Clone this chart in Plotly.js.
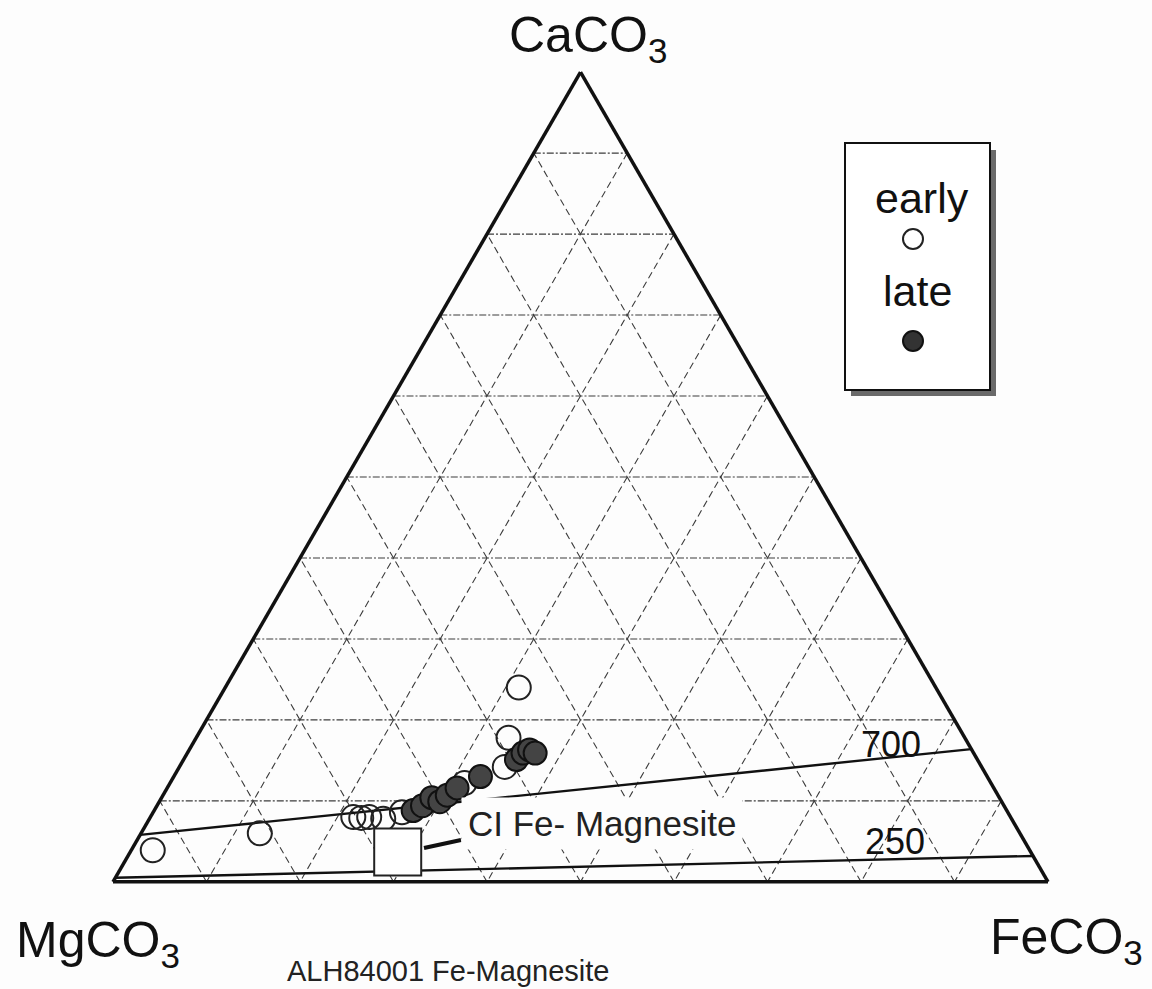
<!DOCTYPE html>
<html>
<head>
<meta charset="utf-8">
<script src="https://cdn.plot.ly/plotly-3.0.1.min.js"></script>
<style>
  html, body { margin: 0; padding: 0; background: #fdfdfd; }
  #chart { width: 1152px; height: 989px; }
</style>
</head>
<body>
<div id="chart"></div>
<script>
// Carbonate compositions (mol %): CaCO3 / MgCO3 / FeCO3
const earlyCa = [3.9, 6.0, 8.0, 7.9, 8.0, 7.8, 8.6, 12.2, 14.2, 17.8, 24.0];
const earlyMg = [93.8, 81.3, 70.3, 69.5, 68.6, 67.2, 64.8, 56.3, 51.0, 48.8, 44.6];
const earlyFe = [2.3, 12.7, 21.7, 22.6, 23.4, 25.0, 26.6, 31.5, 34.8, 33.4, 31.4];

const lateCa = [8.8, 9.4, 10.4, 9.9, 10.7, 11.6, 13.0, 15.1, 15.9, 16.3, 15.9];
const lateMg = [63.5, 62.2, 60.7, 60.1, 58.9, 57.4, 54.2, 49.3, 48.2, 47.3, 46.9];
const lateFe = [27.7, 28.4, 28.9, 30.0, 30.4, 31.0, 32.8, 35.6, 35.9, 36.4, 37.2];

// CI chondrite Fe-magnesite reference composition
const ciCa = [3.7];
const ciMg = [67.7];
const ciFe = [28.6];

// Solvus isotherms (°C) drawn edge to edge
const iso700Ca = [5.8, 16.4];
const iso700Mg = [94.2, 0];
const iso700Fe = [0, 83.6];
const iso250Ca = [0.5, 3.2];
const iso250Mg = [99.5, 0];
const iso250Fe = [0, 96.8];

const apexLabels = ['CaCO<sub>3</sub>', 'MgCO<sub>3</sub>', 'FeCO<sub>3</sub>'];
const legendLabels = ['early', 'late'];
const isoLabels = ['700', '250'];
const ciLabel = 'CI Fe- Magnesite';
const captionText = 'ALH84001 Fe-Magnesite';

// Page geometry helpers (pixel -> paper fraction)
const W = 1152, H = 989;
const px = x => x / W;
const py = y => 1 - y / H;

const FONT = 'Arial, "Liberation Sans", sans-serif';

const isoLine = {color: '#111', width: 2.4};

const traces = [
  {
    type: 'scatterternary', mode: 'lines',
    a: iso700Ca, b: iso700Mg, c: iso700Fe,
    line: isoLine, hoverinfo: 'skip', showlegend: false, cliponaxis: false
  },
  {
    type: 'scatterternary', mode: 'lines',
    a: iso250Ca, b: iso250Mg, c: iso250Fe,
    line: isoLine, hoverinfo: 'skip', showlegend: false, cliponaxis: false
  },
  {
    type: 'scatterternary', mode: 'markers', name: legendLabels[0],
    a: earlyCa, b: earlyMg, c: earlyFe,
    marker: {symbol: 'circle-open', size: 24, color: '#222', line: {width: 2}},
    showlegend: false
  },
  {
    type: 'scatterternary', mode: 'markers', name: legendLabels[1],
    a: lateCa, b: lateMg, c: lateFe,
    marker: {symbol: 'circle', size: 23, color: '#444', line: {color: '#111', width: 2}},
    showlegend: false
  },
  {
    type: 'scatterternary', mode: 'markers', name: ciLabel,
    a: ciCa, b: ciMg, c: ciFe,
    marker: {symbol: 'square', size: 47, color: '#ffffff', line: {color: '#222', width: 2}},
    showlegend: false
  }
];

// Vertex names are drawn as annotations, so axis titles stay blank
const axisStyle = (dash) => ({
  title: {text: ''},
  showticklabels: false,
  ticks: '',
  tickmode: 'linear',
  tick0: 0,
  dtick: 10,
  linecolor: '#111',
  linewidth: 3.5,
  showgrid: true,
  gridcolor: '#3c3c3c',
  gridwidth: 1.1,
  griddash: dash
});

const layout = {
  width: W, height: H,
  margin: {l: 0, r: 0, t: 0, b: 0},
  paper_bgcolor: '#fdfdfd',
  showlegend: false,
  font: {family: FONT, color: '#111'},
  ternary: {
    sum: 100,
    domain: {x: [px(113), px(1048)], y: [py(882), py(72)]},
    bgcolor: 'rgba(0,0,0,0)',
    aaxis: axisStyle('7px,2px,2px,2px'),
    baxis: axisStyle('7px,4px'),
    caxis: axisStyle('7px,4px')
  },
  shapes: [
    // legend box with drop shadow
    {type: 'rect', xref: 'paper', yref: 'paper', x0: px(851), x1: px(996), y0: py(150), y1: py(396),
     fillcolor: '#6a6a6a', line: {width: 0}},
    {type: 'rect', xref: 'paper', yref: 'paper', x0: px(845), x1: px(990), y0: py(143), y1: py(390),
     fillcolor: '#ffffff', line: {color: '#111', width: 2}},
    {type: 'circle', xref: 'paper', yref: 'paper', x0: px(903), x1: px(923), y0: py(229), y1: py(249),
     fillcolor: 'rgba(0,0,0,0)', line: {color: '#222', width: 2}},
    {type: 'circle', xref: 'paper', yref: 'paper', x0: px(903), x1: px(923), y0: py(331), y1: py(351),
     fillcolor: '#333', line: {color: '#111', width: 2}},
    // leader from the CI square to its label
    {type: 'line', xref: 'paper', yref: 'paper', x0: px(424), y0: py(848), x1: px(461), y1: py(840),
     line: {color: '#111', width: 4}}
  ],
  annotations: [
    {text: apexLabels[0], x: px(588), y: py(38), xref: 'paper', yref: 'paper', showarrow: false,
     xanchor: 'center', yanchor: 'middle', font: {size: 50, family: FONT, color: '#111'}},
    {text: apexLabels[1], x: px(98), y: py(943), xref: 'paper', yref: 'paper', showarrow: false,
     xanchor: 'center', yanchor: 'middle', font: {size: 50, family: FONT, color: '#111'}},
    {text: apexLabels[2], x: px(1066), y: py(940), xref: 'paper', yref: 'paper', showarrow: false,
     xanchor: 'center', yanchor: 'middle', font: {size: 50, family: FONT, color: '#111'}},
    {text: captionText, x: px(448), y: py(971), xref: 'paper', yref: 'paper', showarrow: false,
     xanchor: 'center', yanchor: 'middle', font: {size: 29, family: FONT, color: '#222'}},
    {text: ciLabel, x: px(602), y: py(823), xref: 'paper', yref: 'paper', showarrow: false,
     xanchor: 'center', yanchor: 'middle', bgcolor: '#fdfdfd', borderpad: 6,
     font: {size: 35, family: FONT, color: '#222'}},
    {text: isoLabels[0], x: px(891), y: py(744), xref: 'paper', yref: 'paper', showarrow: false,
     xanchor: 'center', yanchor: 'middle', font: {size: 36, family: FONT, color: '#111'}},
    {text: isoLabels[1], x: px(895), y: py(841), xref: 'paper', yref: 'paper', showarrow: false,
     xanchor: 'center', yanchor: 'middle', font: {size: 36, family: FONT, color: '#111'}},
    {text: legendLabels[0], x: px(922), y: py(198), xref: 'paper', yref: 'paper', showarrow: false,
     xanchor: 'center', yanchor: 'middle', font: {size: 43, family: FONT, color: '#111'}},
    {text: legendLabels[1], x: px(917), y: py(291), xref: 'paper', yref: 'paper', showarrow: false,
     xanchor: 'center', yanchor: 'middle', font: {size: 43, family: FONT, color: '#111'}}
  ]
};

Plotly.newPlot('chart', traces, layout, {staticPlot: true, displayModeBar: false});
</script>
</body>
</html>
